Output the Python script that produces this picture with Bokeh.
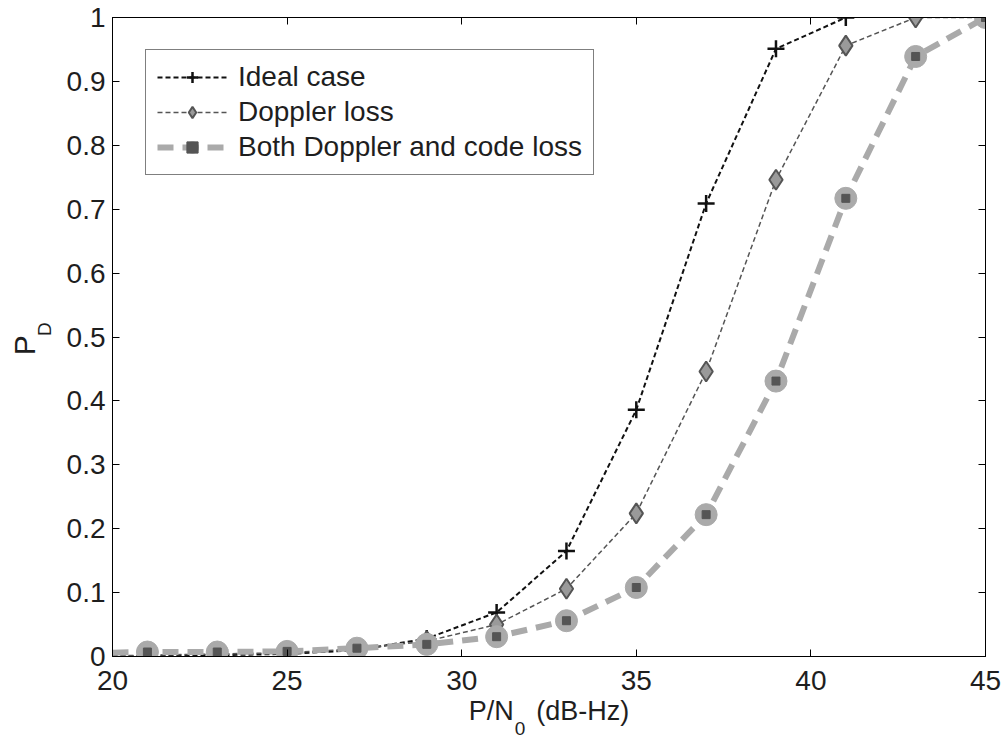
from bokeh.plotting import figure
from bokeh.models import (Range1d, LinearAxis, FixedTicker, CustomJSTickFormatter,
                          Legend, LegendItem)
from bokeh.embed import file_html
from bokeh.resources import INLINE

# ---- data ----
snr = [21, 23, 25, 27, 29, 31, 33, 35, 37, 39, 41, 43, 45]
snr_start = [20]
pd_ideal = [0.001, 0.002, 0.004, 0.010, 0.028, 0.069, 0.165, 0.386, 0.709, 0.951, 1.0]
pd_doppler = [0.002, 0.004, 0.006, 0.012, 0.024, 0.050, 0.106, 0.224, 0.446, 0.746, 0.956, 1.0, 1.0]
pd_both = [0.007, 0.007, 0.008, 0.013, 0.019, 0.031, 0.056, 0.108, 0.222, 0.431, 0.717, 0.939, 1.0]
start_ideal = [0.0]
start_doppler = [0.001]
start_both = [0.006]

x_ticks = [20, 25, 30, 35, 40, 45]
y_ticks = [0, 0.1, 0.2, 0.3, 0.4, 0.5, 0.6, 0.7, 0.8, 0.9, 1.0]
series_names = ["Ideal case", "Doppler loss", "Both Doppler and code loss"]
NB = "\u00a0"
xlabel_main = "P/N" + NB * 3 + "(dB-Hz)"
xlabel_sub = "0" + NB * 11
ylabel_main = "P" + NB * 2
ylabel_sub = NB * 3 + "D"

FONT = "Liberation Sans"
FS = "28px"
FS_T = "27px"
FS_P = "30px"
FS_SUB = "19px"
TXT = "#1e1e1e"

p = figure(width=1001, height=741, output_backend="svg", toolbar_location=None,
           x_range=Range1d(20, 45), y_range=Range1d(0, 1),
           min_border_left=112, min_border_right=16, min_border_top=17, min_border_bottom=85,
           background_fill_color="white", border_fill_color="white")
p.grid.visible = False
p.outline_line_color = "black"
p.outline_line_width = 1

fmt_y = CustomJSTickFormatter(code="var s = tick.toFixed(1); return s.replace(/\\.0$/, '');")
fmt_x = CustomJSTickFormatter(code="return tick.toFixed(0);")


def style_axis(ax, labels=True):
    ax.axis_line_color = "black"
    ax.axis_line_width = 1
    ax.major_tick_in = 7
    ax.major_tick_out = 0
    ax.minor_tick_line_color = None
    ax.major_tick_line_color = "black"
    ax.major_tick_line_width = 1
    ax.major_label_text_font = FONT
    ax.major_label_text_color = TXT
    ax.major_label_text_font_size = FS
    if not labels:
        ax.major_label_text_font_size = "1px"
        ax.major_label_text_color = None
        ax.major_label_standoff = 0


xa = p.xaxis[0]
ya = p.yaxis[0]
xa.ticker = FixedTicker(ticks=x_ticks)
ya.ticker = FixedTicker(ticks=y_ticks)
xa.formatter = fmt_x
ya.formatter = fmt_y
style_axis(xa)
style_axis(ya)
xa.major_label_standoff = 14
ya.major_label_standoff = 7

# x-axis title on the main axis
xa.axis_label = xlabel_main
xa.axis_label_text_font = FONT
xa.axis_label_text_font_size = FS_T
xa.axis_label_text_font_style = "normal"
xa.axis_label_text_color = TXT
xa.axis_label_standoff = 3

top = LinearAxis(ticker=FixedTicker(ticks=x_ticks))
right = LinearAxis(ticker=FixedTicker(ticks=y_ticks))
style_axis(top, labels=False)
style_axis(right, labels=False)
p.add_layout(top, "above")
p.add_layout(right, "right")


def title_axis(label, size, standoff):
    ax = LinearAxis(ticker=FixedTicker(ticks=[]))
    ax.axis_line_color = None
    ax.major_tick_line_color = None
    ax.minor_tick_line_color = None
    ax.major_label_standoff = 0
    ax.major_tick_in = 0
    ax.major_tick_out = 0
    ax.axis_label = label
    ax.axis_label_text_font = FONT
    ax.axis_label_text_font_size = size
    ax.axis_label_text_font_style = "normal"
    ax.axis_label_text_color = TXT
    ax.axis_label_standoff = standoff
    return ax


# subscript "0" of the x title, one row lower
p.add_layout(title_axis(xlabel_sub, FS_SUB, -11), "below")

# y-axis title "P" with subscript "D"
p.add_layout(title_axis(ylabel_sub, FS_SUB, 9), "left")
p.add_layout(title_axis(ylabel_main, FS_P, -10), "left")

# ---- series ----
r1l = p.line(snr_start + snr[:len(pd_ideal)], start_ideal + pd_ideal,
             line_color="#111111", line_width=2, line_dash="5 3")
r1m = p.scatter(snr[:len(pd_ideal)], pd_ideal, marker="cross", size=17,
                line_color="#111111", line_width=2.5)

r2l = p.line(snr_start + snr, start_doppler + pd_doppler,
             line_color="#555555", line_width=1.5, line_dash="5 3")
r2m = p.scatter(snr, pd_doppler, marker="diamond", size=20,
                fill_color="#9a9a9a", line_color="#555555", line_width=2)

r3l = p.line(snr_start + snr, start_both + pd_both,
             line_color="#aaaaaa", line_width=6, line_dash="16 9")
r3c = p.scatter(snr, pd_both, marker="circle", size=22,
                fill_color="#aaaaaa", line_color="#aaaaaa", line_width=1)
r3s = p.scatter(snr, pd_both, marker="square", size=8,
                fill_color="#555555", line_color="#555555", line_width=1)

legend = Legend(items=[
    LegendItem(label=series_names[0], renderers=[r1l, r1m]),
    LegendItem(label=series_names[1], renderers=[r2l, r2m]),
    LegendItem(label=series_names[2], renderers=[r3l, r3c, r3s]),
], location=(33, 481))
legend.label_text_font = FONT
legend.label_text_font_size = "28px"
legend.label_text_color = TXT
legend.glyph_width = 70
legend.glyph_height = 28
legend.label_height = 28
legend.spacing = 3
legend.padding = 11
legend.margin = 0
legend.label_standoff = 11
legend.border_line_color = "black"
legend.border_line_width = 1
legend.background_fill_color = "white"
legend.background_fill_alpha = 1
p.add_layout(legend)

open("out.html", "w").write(file_html(p, INLINE))
